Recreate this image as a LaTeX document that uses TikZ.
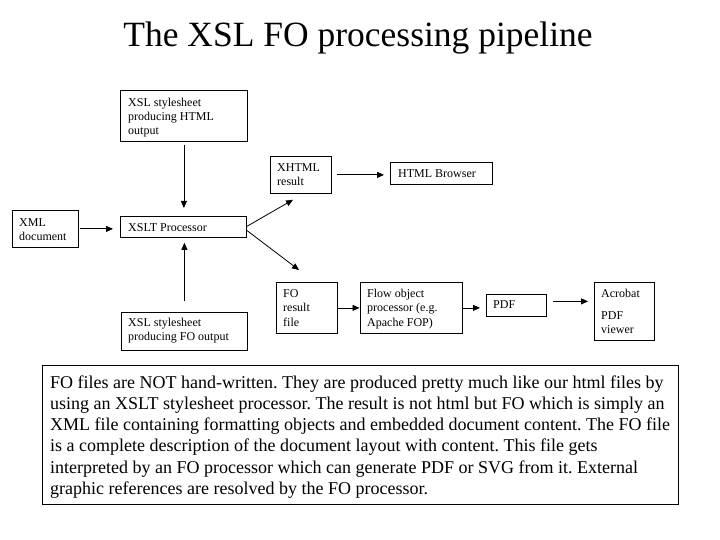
\documentclass[tikz,border=0pt]{standalone}
\usepackage{fontspec}
\setmainfont{Liberation Serif}
\usetikzlibrary{arrows.meta,calc}
\begin{document}
\frenchspacing
\begin{tikzpicture}[x=1pt,y=-1pt,
  box/.style={draw,line width=0.8pt,inner sep=0pt,anchor=north west},
  lbl/.style={inner sep=0pt,anchor=north west,align=left,font=\fontsize{12}{14.4}\selectfont},
  arr/.style={line width=0.8pt,-{Triangle[length=7pt,width=6pt]}}]
\useasboundingbox[fill=white] (0,0) rectangle (720,540);
% title
\node[anchor=base,inner sep=0pt,font=\fontsize{35.5}{40}\selectfont] (title) at (358,47) {The XSL FO processing pipeline};
% boxes
\node[box,minimum width=127pt,minimum height=51pt] (xslhtml) at (120,90) {};
\node[box,minimum width=61pt,minimum height=37pt] (xhtml) at (270,156) {};
\node[box,minimum width=102pt,minimum height=22pt] (browser) at (390,162) {};
\node[box,minimum width=66pt,minimum height=37pt] (xml) at (12,210) {};
\node[box,minimum width=126pt,minimum height=21pt] (xslt) at (120,216) {};
\node[box,minimum width=126pt,minimum height=38pt] (xslfo) at (121,312) {};
\node[box,minimum width=61pt,minimum height=51pt] (fo) at (276,282) {};
\node[box,minimum width=102pt,minimum height=51pt] (flow) at (360,282) {};
\node[box,minimum width=60pt,minimum height=22pt] (pdf) at (486,294) {};
\node[box,minimum width=60pt,minimum height=58pt] (acro) at (594,282) {};
\node[box,minimum width=636pt,minimum height=139pt] (note) at (42,365) {};
% box texts
\node[lbl] (t1) at (128,97) {\rule{0pt}{9pt}XSL stylesheet\\producing HTML\\output};
\node[lbl] (t2) at (277,162) {\rule{0pt}{9pt}XHTML\\result};
\node[lbl] (t3) at (398,168) {\rule{0pt}{9pt}HTML Browser};
\node[lbl] (t4) at (19,217) {\rule{0pt}{9pt}XML\\document};
\node[lbl] (t5) at (128,222) {\rule{0pt}{9pt}XSLT Processor};
\node[lbl] (t6) at (128,317) {\rule{0pt}{9pt}XSL stylesheet\\producing FO output};
\node[lbl] (t7) at (283,288) {\rule{0pt}{9pt}FO\\result\\file};
\node[lbl] (t8) at (367,288) {\rule{0pt}{9pt}Flow object\\processor (e.g.\\Apache FOP)};
\node[lbl] (t9) at (493,299) {\rule{0pt}{9pt}PDF};
\node[lbl] (t10) at (601,288) {\rule{0pt}{9pt}Acrobat\\[7.5pt]PDF\\viewer};
% note text
\node[inner sep=0pt,anchor=north west,align=left,font=\fontsize{18}{21.2}\selectfont] (notetext) at (50,375)
{\rule{0pt}{13pt}FO files are NOT hand-written. They are produced pretty much like our html files by\\
using an XSLT stylesheet processor. The result is not html but FO which is simply an\\
XML file containing formatting objects and embedded document content. The FO file\\
is a complete description of the document layout with content. This file gets\\
interpreted by an FO processor which can generate PDF or SVG from it. External\\
graphic references are resolved by the FO processor.};
% connectors
\draw[arr,shorten <=3pt,shorten >=8pt] (xslhtml.south) -- (xslhtml.south |- xslt.north);
\draw[arr,shorten <=11pt,shorten >=5pt] (xslfo.north) -- (xslfo.north |- xslt.south);
\draw[arr,shorten <=1pt,shorten >=7pt] (xml.east) -- (xml.east -| xslt.west);
\draw[arr] ([yshift=0.5pt]xslt.east) -- ([shift={(23,6)}]xhtml.south west);
\draw[arr] ([yshift=-3.5pt]xslt.east) -- ([shift={(23,-12)}]fo.north west);
\draw[arr,shorten <=5pt,shorten >=6pt] (xhtml.east) -- (xhtml.east -| browser.west);
\draw[arr,shorten >=0.5pt] (fo.east) -- (fo.east -| flow.west);
\draw[arr,shorten >=6pt] (flow.east) -- (flow.east -| pdf.west);
\draw[arr,shorten <=6pt,shorten >=6pt] ([yshift=4pt]pdf.east) -- ([yshift=4pt]pdf.east -| acro.west);
\end{tikzpicture}
\end{document}
